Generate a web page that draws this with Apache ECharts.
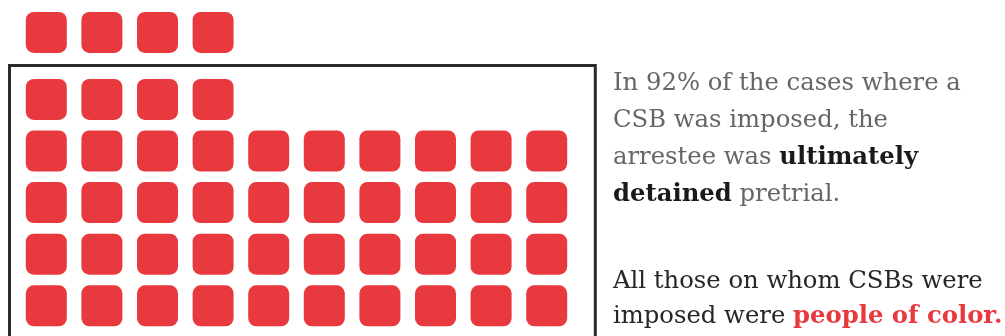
<!DOCTYPE html>
<html><head><meta charset="utf-8">
<script src="https://cdn.jsdelivr.net/npm/echarts@6/dist/echarts.min.js"></script>
<style>html,body{margin:0;padding:0;background:#fff}#c{width:1005px;height:336px}</style>
</head><body><div id="c"></div>
<script>
// Number of squares in each visible row (first row sits above the box)
const rowCounts = [4, 4, 10, 10, 10, 10];
const textLines1 = [
  [['n','In 92% of the cases where a']],
  [['n','CSB was imposed, the']],
  [['n','arrestee was '],['b','ultimately']],
  [['b','detained'],['n',' pretrial.']]
];
const textLines2 = [
  [['m','All those on whom CSBs were']],
  [['m','imposed were '],['r','people of color.']]
];

const cells = [];
rowCounts.forEach((n, r) => { for (let c = 0; c < n; c++) cells.push([c, r]); });

const RED = '#e8393f';
const chart = echarts.init(document.getElementById('c'));
function toRich(lines){ return lines.map(l => l.map(([s,t]) => '{' + s + '|' + t + '}').join('')).join('\n'); }
const FONT = '"DejaVu Serif", serif';
const FS = 24.3;
const rich1 = {
  n:{fontFamily:FONT,fontSize:FS,fill:'#666666',lineHeight:37},
  b:{fontFamily:FONT,fontSize:FS,fill:'#1a1a1a',fontWeight:'bold',lineHeight:37}
};
const rich2 = {
  m:{fontFamily:FONT,fontSize:FS,fill:'#262626',lineHeight:35},
  r:{fontFamily:FONT,fontSize:FS,fill:RED,fontWeight:'bold',lineHeight:35}
};
chart.setOption({
  animation:false,
  grid:{left:18.5,top:22,width:556,height:309.6},
  xAxis:{type:'value',min:-0.5,max:9.5,show:false},
  yAxis:{type:'value',min:-0.5,max:5.5,inverse:true,show:false},
  series:[{
    type:'custom',
    data:cells,
    renderItem:function(params, api){
      const p = api.coord([api.value(0), api.value(1)]);
      const shift = api.value(1) === 0 ? -15.4 : 0;
      const s = 41;
      return {type:'rect',shape:{x:p[0]-s/2,y:p[1]-s/2+shift,width:s,height:s,r:8},style:{fill:RED}};
    }
  }],
  graphic:[
    {type:'rect',shape:{x:9.5,y:65.5,width:585.8,height:400},style:{fill:'none',stroke:'#2b2b2b',lineWidth:3},z:10},
    {type:'text',left:613,top:72,style:{text:toRich(textLines1),rich:rich1,fontFamily:FONT,fontSize:FS}},
    {type:'text',left:613,top:270,style:{text:toRich(textLines2),rich:rich2,fontFamily:FONT,fontSize:FS}}
  ]
});
</script></body></html>
